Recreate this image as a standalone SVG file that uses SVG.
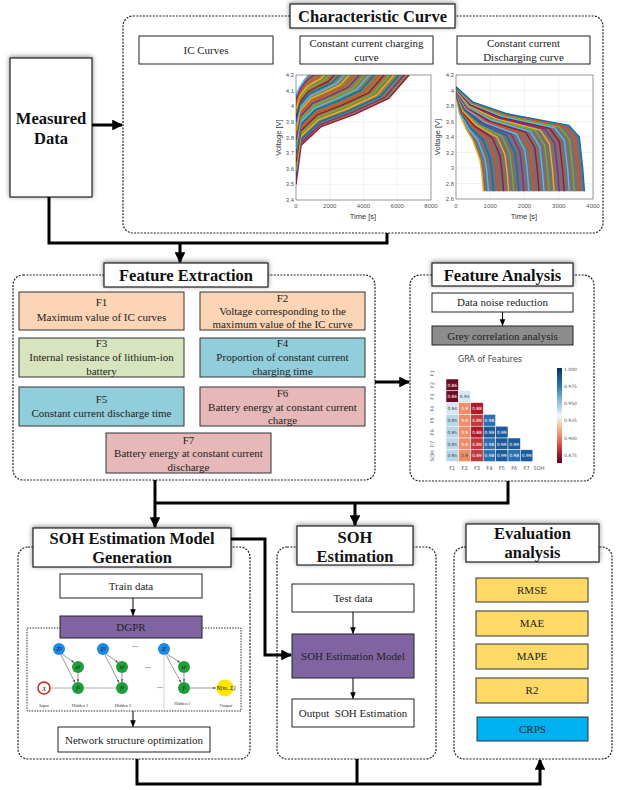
<svg xmlns="http://www.w3.org/2000/svg" width="622" height="790" viewBox="0 0 622 790">
<defs>
<style>
.title{font-family:"Liberation Serif","Times New Roman",serif;font-weight:bold;font-size:16.5px;text-anchor:middle;fill:#111}
.b{font-family:"Liberation Serif","Times New Roman",serif;font-size:11px;text-anchor:middle;fill:#222}
.box{fill:#fff;stroke:#222;stroke-width:1}
.tbox{fill:#fff;stroke:#222;stroke-width:1.2;filter:url(#sh)}
.cont{fill:none;stroke:#222;stroke-width:1.2;stroke-dasharray:2 1.3}
.conn{fill:none;stroke:#000;stroke-width:3}
.thin{fill:none;stroke:#000;stroke-width:1}
.ax{font-family:"Liberation Sans",Arial,sans-serif;font-size:6px;fill:#555}
.axl{font-family:"Liberation Sans",Arial,sans-serif;font-size:7.5px;fill:#333;text-anchor:middle}
.grid{stroke:#e2e2e2;stroke-width:0.5}
.cv{fill:none;stroke-width:1.4;stroke-linejoin:round}
.hm{font-family:"DejaVu Sans",sans-serif;font-size:4.3px;text-anchor:middle}
.hl{font-family:"DejaVu Sans",sans-serif;font-size:5px;fill:#555;text-anchor:middle}
.nl{font-family:"Liberation Serif",serif;font-size:4.5px;fill:#333;text-anchor:middle}
.nt{font-family:"Liberation Serif",serif;font-style:italic;font-size:6px;fill:#111;text-anchor:middle}
.na{stroke:#555;stroke-width:0.6;fill:none;marker-end:url(#an)}
</style>
<filter id="sh" x="-20%" y="-40%" width="140%" height="180%">
<feDropShadow dx="0" dy="-1" stdDeviation="2.5" flood-color="#000" flood-opacity="0.45"/>
</filter>
<marker id="ah" viewBox="0 0 10 10" refX="9" refY="5" markerWidth="3.6" markerHeight="3.6" orient="auto" markerUnits="strokeWidth"><path d="M0,0 L10,5 L0,10 z" fill="#000"/></marker>
<marker id="as" viewBox="0 0 10 10" refX="9" refY="5" markerWidth="7" markerHeight="7" orient="auto" markerUnits="userSpaceOnUse"><path d="M0,1 L10,5 L0,9 z" fill="#000"/></marker>
<marker id="an" viewBox="0 0 10 10" refX="9" refY="5" markerWidth="3" markerHeight="3" orient="auto" markerUnits="userSpaceOnUse"><path d="M0,1 L10,5 L0,9 z" fill="#555"/></marker>
<clipPath id="c1"><rect x="296" y="75" width="135" height="125"/></clipPath>
<clipPath id="c2"><rect x="456" y="75" width="137" height="124"/></clipPath>
<linearGradient id="cb" x1="0" y1="0" x2="0" y2="1">
<stop offset="0" stop-color="#053061"/><stop offset="0.1" stop-color="#1a5797"/><stop offset="0.2" stop-color="#2f79b5"/><stop offset="0.3" stop-color="#6aabd1"/><stop offset="0.42" stop-color="#b8d6e9"/><stop offset="0.5" stop-color="#f7f7f7"/><stop offset="0.58" stop-color="#fbd0b9"/><stop offset="0.68" stop-color="#f09c7b"/><stop offset="0.8" stop-color="#d15a4a"/><stop offset="0.9" stop-color="#a61b2d"/><stop offset="1" stop-color="#67001f"/>
</linearGradient>
</defs>
<rect width="622" height="790" fill="#fff"/>

<!-- Measured Data -->
<g id="measured-data">
<rect x="10" y="58" width="82" height="139" class="tbox"/>
<text x="51" y="124" class="title">Measured</text>
<text x="51" y="144" class="title">Data</text>
</g>

<!-- Characteristic Curve -->
<g id="characteristic-curve">
<rect x="123" y="16" width="480" height="217" rx="10" class="cont" stroke="#666"/>
<rect x="290" y="4" width="165" height="24" class="tbox"/>
<text x="372.5" y="22" class="title">Characteristic Curve</text>
<rect x="139" y="36" width="134" height="28" class="box"/>
<text x="206" y="54" class="b">IC Curves</text>
<rect x="300" y="36" width="133" height="28" class="box"/>
<text x="366.5" y="47" class="b">Constant current charging</text>
<text x="366.5" y="61" class="b">curve</text>
<rect x="457" y="36" width="133" height="28" class="box"/>
<text x="523.5" y="47" class="b">Constant current</text>
<text x="523.5" y="61" class="b">Discharging curve</text>
</g>

<!-- Charging plot -->
<g id="charging-plot">
<rect x="296" y="75" width="135" height="125" fill="#fff"/>
<g class="grid">
<path d="M329.75,75V200M363.5,75V200M397.25,75V200M296,90.6H431M296,106.25H431M296,121.9H431M296,137.5H431M296,153.1H431M296,168.75H431M296,184.4H431"/>
</g>
<g clip-path="url(#c1)">
<polygon points="296,184.4 301.1,145.3 321.3,126.6 355.1,114.1 388.8,98.4 409.1,75 309.5,75 308.1,75 307,76.6 304.4,79.7 299.4,87.5 296,95.3" fill="#8c7c52"/>
<polyline class="cv" stroke="#A2142F" points="296,184.4 301.1,145.3 321.3,126.6 355.1,114.1 388.8,98.4 409.1,75"/>
<polyline class="cv" stroke="#7E2F8E" points="296,180 301,142.4 320.5,124.3 352.7,112.2 384.8,97.3 404.1,75"/>
<polyline class="cv" stroke="#0072BD" points="296,175.5 300.9,139.5 319.6,121.9 350.2,110.3 380.7,96.2 399.1,75"/>
<polyline class="cv" stroke="#EDB120" points="296,171.1 300.8,136.6 318.8,119.6 347.8,108.5 376.7,95.1 394.2,75"/>
<polyline class="cv" stroke="#77AC30" points="296,166.6 300.7,133.7 317.9,117.2 345.4,106.6 372.7,93.9 389.2,75"/>
<polyline class="cv" stroke="#A2142F" points="296,162.2 300.7,130.9 317.1,114.9 343,104.7 368.7,92.8 384.2,75"/>
<polyline class="cv" stroke="#D95319" points="296,157.7 300.6,128 316.2,112.5 340.6,102.8 364.6,91.6 379.2,75"/>
<polyline class="cv" stroke="#0072BD" points="296,153.3 300.5,125.1 315.4,110.2 338.2,101 360.6,90.5 374.2,75"/>
<polyline class="cv" stroke="#4DBEEE" points="296,148.8 300.4,122.2 314.6,107.8 335.8,99.1 356.5,89.4 369.2,75"/>
<polyline class="cv" stroke="#77AC30" points="296,144.3 300.3,119.3 313.8,105.5 333.4,97.2 352.5,88.3 364.3,75"/>
<polyline class="cv" stroke="#7E2F8E" points="296,139.8 300.2,116.4 312.9,103.1 331,95.3 348.5,87.1 359.3,75"/>
<polyline class="cv" stroke="#D95319" points="296,135.4 300.1,113.5 312.1,100.8 328.6,93.5 344.5,86 354.3,75"/>
<polyline class="cv" stroke="#EDB120" points="296,130.9 300,110.6 311.2,98.4 326.2,91.6 340.4,84.8 349.3,75"/>
<polyline class="cv" stroke="#4DBEEE" points="296,126.5 300,107.7 310.4,96.1 323.8,89.7 336.4,83.7 344.4,75"/>
<polyline class="cv" stroke="#0072BD" points="296,122 299.9,104.8 309.5,93.7 321.4,87.8 332.3,82.6 339.4,75"/>
<polyline class="cv" stroke="#A2142F" points="296,117.6 299.8,102 308.7,91.4 319,86 328.3,81.5 334.4,75"/>
<polyline class="cv" stroke="#77AC30" points="296,113.1 299.7,99.1 307.8,89.1 316.6,84.1 324.3,80.3 329.4,75"/>
<polyline class="cv" stroke="#EDB120" points="296,108.7 299.6,96.2 307,86.8 314.2,82.2 320.3,79.2 324.5,75"/>
<polyline class="cv" stroke="#D95319" points="296,104.2 299.5,93.3 306.1,84.4 311.8,80.3 316.2,78 319.5,75"/>
<polyline class="cv" stroke="#7E2F8E" points="296,99.8 299.5,90.4 305.3,82.1 309.4,78.5 312.2,76.5 314.5,75"/>
<polyline class="cv" stroke="#4DBEEE" points="296,95.3 299.4,87.5 304.4,79.7 307,76.6 308.1,75 309.5,75"/>
</g>
<rect x="296" y="75" width="135" height="125" fill="none" stroke="#333" stroke-width="0.5"/>
<g class="ax" text-anchor="end">
<text x="294" y="77">4.2</text><text x="294" y="92.6">4.1</text><text x="294" y="108.2">4</text><text x="294" y="123.9">3.9</text><text x="294" y="139.5">3.8</text><text x="294" y="155.1">3.7</text><text x="294" y="170.7">3.6</text><text x="294" y="186.4">3.5</text><text x="294" y="202">3.4</text>
</g>
<g class="ax" text-anchor="middle">
<text x="296" y="208">0</text><text x="329.75" y="208">2000</text><text x="363.5" y="208">4000</text><text x="397.25" y="208">6000</text><text x="431" y="208">8000</text>
</g>
<text class="axl" x="363" y="219">Time [s]</text>
<text class="axl" transform="translate(281,137.5) rotate(-90)">Voltage [V]</text>
</g>

<!-- Discharging plot -->
<g id="discharging-plot">
<rect x="456" y="75" width="137" height="124" fill="#fff"/>
<g class="grid">
<path d="M490.25,75V199M524.5,75V199M558.75,75V199M456,90.5H593M456,106H593M456,121.5H593M456,137H593M456,152.5H593M456,168H593M456,183.5H593"/>
</g>
<g clip-path="url(#c2)">
<polygon points="456,94.4 459.4,113.8 466.3,129.3 473.1,140.9 480,160.3 481.7,171.9 483.4,191.3 584.4,191.3 582.7,168 579.3,137 569,125.4 507.4,113.8 473.1,102.2 456,86.7" fill="#7a6e72"/>
<polyline class="cv" stroke="#EDB120" points="456,94.4 459.4,113.8 466.3,129.3 473.1,140.9 480,160.3 481.7,171.9 483.4,191.3"/>
<polyline class="cv" stroke="#4DBEEE" points="456,94 460.1,113.2 468.4,128.5 477.9,140.2 485,159.2 486.8,171.7 488.5,191.3"/>
<polyline class="cv" stroke="#0072BD" points="456,93.6 460.8,112.6 470.4,127.7 482.7,139.4 489.9,158 491.8,171.5 493.5,191.3"/>
<polyline class="cv" stroke="#D95319" points="456,93.3 461.5,112 472.5,127 487.5,138.6 494.9,156.8 496.9,171.3 498.6,191.3"/>
<polyline class="cv" stroke="#A2142F" points="456,92.9 462.1,111.4 474.5,126.2 492.3,137.8 499.9,155.6 501.9,171.1 503.6,191.3"/>
<polyline class="cv" stroke="#EDB120" points="456,92.5 462.8,110.9 476.6,125.4 497.1,137.1 504.9,154.5 507,170.9 508.7,191.3"/>
<polyline class="cv" stroke="#77AC30" points="456,92.1 463.5,110.3 478.6,124.6 501.9,136.3 509.8,153.3 512,170.7 513.7,191.3"/>
<polyline class="cv" stroke="#0072BD" points="456,91.7 464.2,109.7 480.7,123.9 506.7,135.5 514.8,152.2 517.1,170.5 518.8,191.3"/>
<polyline class="cv" stroke="#7E2F8E" points="456,91.3 464.9,109.1 482.7,123.1 511.5,134.7 519.7,151 522.1,170.3 523.8,191.3"/>
<polyline class="cv" stroke="#4DBEEE" points="456,90.9 465.6,108.6 484.8,122.3 516.3,134 524.7,149.8 527.2,170.1 528.9,191.3"/>
<polyline class="cv" stroke="#D95319" points="456,90.5 466.3,108 486.9,121.5 521.1,133.2 529.7,148.6 532.2,169.9 533.9,191.3"/>
<polyline class="cv" stroke="#A2142F" points="456,90.2 467,107.4 489,120.8 525.9,132.4 534.7,147.5 537.3,169.8 539,191.3"/>
<polyline class="cv" stroke="#4DBEEE" points="456,89.8 467.6,106.8 491,120 530.6,131.6 539.6,146.3 542.3,169.6 544,191.3"/>
<polyline class="cv" stroke="#77AC30" points="456,89.4 468.3,106.2 493.1,119.2 535.4,130.9 544.6,145.2 547.4,169.4 549.1,191.3"/>
<polyline class="cv" stroke="#EDB120" points="456,89 469,105.6 495.1,118.4 540.2,130.1 549.5,144 552.4,169.2 554.1,191.3"/>
<polyline class="cv" stroke="#7E2F8E" points="456,88.6 469.7,105.1 497.2,117.7 545,129.3 554.5,142.9 557.5,169 559.2,191.3"/>
<polyline class="cv" stroke="#A2142F" points="456,88.2 470.4,104.5 499.2,116.9 549.8,128.5 559.4,141.7 562.5,168.8 564.2,191.3"/>
<polyline class="cv" stroke="#4DBEEE" points="456,87.8 471.1,103.9 501.3,116.1 554.6,127.8 564.4,140.5 567.6,168.6 569.3,191.3"/>
<polyline class="cv" stroke="#77AC30" points="456,87.4 471.7,103.3 503.3,115.3 559.4,127 569.4,139.3 572.6,168.4 574.3,191.3"/>
<polyline class="cv" stroke="#D95319" points="456,87.1 472.4,102.8 505.4,114.6 564.2,126.2 574.4,138.2 577.7,168.2 579.4,191.3"/>
<polyline class="cv" stroke="#0072BD" points="456,86.7 473.1,102.2 507.4,113.8 569,125.4 579.3,137 582.7,168 584.4,191.3"/>
</g>
<rect x="456" y="75" width="137" height="124" fill="none" stroke="#333" stroke-width="0.5"/>
<g class="ax" text-anchor="end">
<text x="454" y="77">4.2</text><text x="454" y="92.5">4</text><text x="454" y="108">3.8</text><text x="454" y="123.5">3.6</text><text x="454" y="139">3.4</text><text x="454" y="154.5">3.2</text><text x="454" y="170">3</text><text x="454" y="185.5">2.8</text><text x="454" y="201">2.6</text>
</g>
<g class="ax" text-anchor="middle">
<text x="456" y="208">0</text><text x="490.25" y="208">1000</text><text x="524.5" y="208">2000</text><text x="558.75" y="208">3000</text><text x="593" y="208">4000</text>
</g>
<text class="axl" x="524" y="219">Time [s]</text>
<text class="axl" transform="translate(440,137) rotate(-90)">Voltage [V]</text>
</g>

<!-- Feature Extraction -->
<g id="feature-extraction">
<rect x="13" y="275" width="362" height="205" rx="10" class="cont"/>
<rect x="104" y="263" width="164" height="24" class="tbox"/>
<text x="186" y="281" class="title">Feature Extraction</text>
<rect x="19" y="292" width="165" height="38" fill="#fbd5b5" stroke="#333"/>
<text x="101.5" y="306" class="b">F1</text>
<text x="101.5" y="321" class="b">Maximum value of IC curves</text>
<rect x="200" y="292" width="165" height="38" fill="#fbd5b5" stroke="#333"/>
<text x="282.5" y="302" class="b">F2</text>
<text x="282.5" y="315" class="b">Voltage corresponding to the</text>
<text x="282.5" y="328" class="b">maximum value of the IC curve</text>
<rect x="19" y="338" width="165" height="39" fill="#d7e4bd" stroke="#333"/>
<text x="101.5" y="347" class="b">F3</text>
<text x="101.5" y="361" class="b">Internal resistance of lithium-ion</text>
<text x="101.5" y="375" class="b">battery</text>
<rect x="200" y="338" width="165" height="39" fill="#92cddc" stroke="#333"/>
<text x="282.5" y="347" class="b">F4</text>
<text x="282.5" y="361" class="b">Proportion of constant current</text>
<text x="282.5" y="375" class="b">charging time</text>
<rect x="19" y="387" width="165" height="39" fill="#92cddc" stroke="#333"/>
<text x="101.5" y="403" class="b">F5</text>
<text x="101.5" y="417" class="b">Constant current discharge time</text>
<rect x="200" y="387" width="165" height="39" fill="#e6b9b8" stroke="#333"/>
<text x="282.5" y="397" class="b">F6</text>
<text x="282.5" y="411" class="b">Battery energy at constant current</text>
<text x="282.5" y="424" class="b">charge</text>
<rect x="106" y="433" width="165" height="40" fill="#e6b9b8" stroke="#333"/>
<text x="188.5" y="444" class="b">F7</text>
<text x="188.5" y="457" class="b">Battery energy at constant current</text>
<text x="188.5" y="471" class="b">discharge</text>
</g>

<!-- Feature Analysis -->
<g id="feature-analysis">
<rect x="410" y="275" width="184" height="206" rx="10" class="cont"/>
<rect x="432" y="263" width="141" height="23" class="tbox"/>
<text x="502.5" y="281" class="title">Feature Analysis</text>
<rect x="432" y="293" width="141" height="19" class="box"/>
<text x="502.5" y="306" class="b">Data noise reduction</text>
<rect x="432" y="326" width="141" height="19" fill="#8c8c8c" stroke="#222"/>
<text x="502.5" y="339.5" class="b">Grey correlation analysis</text>
<text x="490" y="362" font-family="DejaVu Sans,sans-serif" font-size="8" fill="#444" text-anchor="middle">GRA of Features</text>
<g stroke="#fff" stroke-width="0.5">
<rect x="446" y="379" width="12.4" height="11.8" fill="#6d0a24"/>
<rect x="446" y="390.8" width="12.4" height="11.8" fill="#6d0a24"/>
<rect x="458.4" y="390.8" width="12.4" height="11.8" fill="#d8e8f2"/>
<rect x="446" y="402.6" width="12.4" height="11.8" fill="#d8e8f2"/>
<rect x="458.4" y="402.6" width="12.4" height="11.8" fill="#ee8d6a"/>
<rect x="470.8" y="402.6" width="12.4" height="11.8" fill="#b2182b"/>
<rect x="446" y="414.4" width="12.4" height="11.8" fill="#bad6ea"/>
<rect x="458.4" y="414.4" width="12.4" height="11.8" fill="#ee8d6a"/>
<rect x="470.8" y="414.4" width="12.4" height="11.8" fill="#c2373a"/>
<rect x="483.2" y="414.4" width="12.4" height="11.8" fill="#2b6fb0"/>
<rect x="446" y="426.2" width="12.4" height="11.8" fill="#bad6ea"/>
<rect x="458.4" y="426.2" width="12.4" height="11.8" fill="#ee8d6a"/>
<rect x="470.8" y="426.2" width="12.4" height="11.8" fill="#b2182b"/>
<rect x="483.2" y="426.2" width="12.4" height="11.8" fill="#1c5a9a"/>
<rect x="495.6" y="426.2" width="12.4" height="11.8" fill="#1c5a9a"/>
<rect x="446" y="438" width="12.4" height="11.8" fill="#bad6ea"/>
<rect x="458.4" y="438" width="12.4" height="11.8" fill="#ee8d6a"/>
<rect x="470.8" y="438" width="12.4" height="11.8" fill="#c2373a"/>
<rect x="483.2" y="438" width="12.4" height="11.8" fill="#2b6fb0"/>
<rect x="495.6" y="438" width="12.4" height="11.8" fill="#1c5a9a"/>
<rect x="508" y="438" width="12.4" height="11.8" fill="#1c5a9a"/>
<rect x="446" y="449.8" width="12.4" height="11.8" fill="#bad6ea"/>
<rect x="458.4" y="449.8" width="12.4" height="11.8" fill="#ee8d6a"/>
<rect x="470.8" y="449.8" width="12.4" height="11.8" fill="#c2373a"/>
<rect x="483.2" y="449.8" width="12.4" height="11.8" fill="#2b6fb0"/>
<rect x="495.6" y="449.8" width="12.4" height="11.8" fill="#1c5a9a"/>
<rect x="508" y="449.8" width="12.4" height="11.8" fill="#2b6fb0"/>
<rect x="520.4" y="449.8" width="12.4" height="11.8" fill="#1c5a9a"/>
</g>
<g class="hm" fill="#fff">
<text x="452.2" y="386.5">0.86</text>
<text x="452.2" y="398.3">0.86</text>
<text x="464.6" y="398.3" fill="#444">0.94</text>
<text x="452.2" y="410.1" fill="#444">0.94</text>
<text x="464.6" y="410.1">0.9</text>
<text x="477" y="410.1">0.88</text>
<text x="452.2" y="421.9" fill="#444">0.95</text>
<text x="464.6" y="421.9">0.9</text>
<text x="477" y="421.9">0.89</text>
<text x="489.4" y="421.9">0.98</text>
<text x="452.2" y="433.7" fill="#444">0.95</text>
<text x="464.6" y="433.7">0.9</text>
<text x="477" y="433.7">0.88</text>
<text x="489.4" y="433.7">0.99</text>
<text x="501.8" y="433.7">0.99</text>
<text x="452.2" y="445.5" fill="#444">0.95</text>
<text x="464.6" y="445.5">0.9</text>
<text x="477" y="445.5">0.89</text>
<text x="489.4" y="445.5">0.98</text>
<text x="501.8" y="445.5">0.99</text>
<text x="514.2" y="445.5">0.99</text>
<text x="452.2" y="457.3" fill="#444">0.95</text>
<text x="464.6" y="457.3" fill="#444">0.9</text>
<text x="477" y="457.3">0.89</text>
<text x="489.4" y="457.3">0.98</text>
<text x="501.8" y="457.3">0.99</text>
<text x="514.2" y="457.3">0.98</text>
<text x="526.6" y="457.3">0.99</text>
</g>
<g class="hl">
<text x="452.2" y="470">F1</text><text x="464.6" y="470">F2</text><text x="477" y="470">F3</text><text x="489.4" y="470">F4</text><text x="501.8" y="470">F5</text><text x="514.2" y="470">F6</text><text x="526.6" y="470">F7</text><text x="539" y="470">SOH</text>
<text transform="translate(434,373.1) rotate(-90)">F1</text>
<text transform="translate(434,384.9) rotate(-90)">F2</text>
<text transform="translate(434,396.7) rotate(-90)">F3</text>
<text transform="translate(434,408.5) rotate(-90)">F4</text>
<text transform="translate(434,420.3) rotate(-90)">F5</text>
<text transform="translate(434,432.1) rotate(-90)">F6</text>
<text transform="translate(434,443.9) rotate(-90)">F7</text>
<text transform="translate(434,455.7) rotate(-90)">SOH</text>
</g>
<rect x="557" y="368" width="5" height="95" fill="url(#cb)"/>
<g class="hl" style="text-anchor:start;font-size:4.5px">
<text x="564" y="370.5">1.000</text><text x="564" y="388">0.975</text><text x="564" y="405">0.950</text><text x="564" y="422">0.925</text><text x="564" y="439.5">0.900</text><text x="564" y="456.5">0.875</text>
</g>
</g>

<!-- SOH Estimation Model Generation -->
<g id="soh-model-generation">
<rect x="18" y="547" width="232" height="212" rx="10" class="cont"/>
<rect x="33" y="528" width="198" height="39" class="tbox"/>
<text x="132" y="544" class="title">SOH Estimation Model</text>
<text x="132" y="563" class="title">Generation</text>
<rect x="60" y="574" width="142" height="24" class="box"/>
<text x="131" y="590" class="b">Train data</text>
<rect x="27" y="628" width="214" height="83" fill="none" stroke="#333" stroke-width="1" stroke-dasharray="1.5 1.2"/>
<rect x="60" y="616" width="142" height="22" fill="#8064a2" stroke="#222"/>
<text x="131" y="631" class="b" font-size="12">DGPR</text>
<rect x="58" y="727" width="152" height="25" class="box"/>
<text x="134" y="743.5" class="b">Network structure optimization</text>
</g>

<!-- DGPR network -->
<g id="dgpr-network">
<line x1="164" y1="640" x2="164" y2="711" stroke="#bbb" stroke-width="0.6"/>
<line x1="50" y1="688" x2="72" y2="688" stroke="#999" stroke-width="0.8"/>
<line x1="84" y1="688" x2="116" y2="688" stroke="#999" stroke-width="0.8"/>
<line x1="190" y1="688" x2="216" y2="688" class="na" stroke="#999"/>
<path class="na" d="M62,654 L74,662.5"/>
<path class="na" d="M61,655 L75,682.5"/>
<path class="na" d="M78,673 L78,682"/>
<path class="na" d="M106,654 L118,662.5"/>
<path class="na" d="M105,655 L119,682.5"/>
<path class="na" d="M122,673 L122,682"/>
<path class="na" d="M167,654 L180,662.5"/>
<path class="na" d="M166,655 L181,682.5"/>
<path class="na" d="M184,673 L184,682"/>
<g fill="#1e88e5"><circle cx="59" cy="649" r="6"/><circle cx="103" cy="649" r="6"/><circle cx="164" cy="649" r="6"/></g>
<g fill="#1f9e3a"><circle cx="78" cy="667" r="6"/><circle cx="122" cy="667" r="6"/><circle cx="184" cy="667" r="6"/><circle cx="78" cy="688" r="6"/><circle cx="122" cy="688" r="6"/><circle cx="184" cy="688" r="6"/></g>
<circle cx="44" cy="688" r="6" fill="#fff" stroke="#d42020" stroke-width="1.5"/>
<circle cx="225" cy="688" r="8.5" fill="#ffe600"/>
<text class="nt" x="59" y="651">Z¹</text><text class="nt" x="103" y="651">Z²</text><text class="nt" x="164" y="651">Zˡ</text>
<text class="nt" x="78" y="669">u¹</text><text class="nt" x="122" y="669">u²</text><text class="nt" x="184" y="669">uˡ</text>
<text class="nt" x="78" y="690">f¹</text><text class="nt" x="122" y="690">f²</text><text class="nt" x="184" y="690">fˡ</text>
<text class="nt" x="44" y="690.5" font-size="8">X</text>
<text class="nt" x="226" y="690" font-size="4.5" font-style="normal">N(m, Σ)</text>
<g font-family="DejaVu Sans,sans-serif" font-size="3.5" fill="#333" text-anchor="middle">
<text x="135" y="648">•••</text><text x="148" y="669">•••</text><text x="160" y="689">•••</text>
</g>
<text class="nl" x="44" y="707">Input</text><text class="nl" x="80" y="707">Hidden 1</text><text class="nl" x="123" y="707">Hidden 2</text><text class="nl" x="182" y="705">Hidden l</text><text class="nl" x="226" y="707">Output</text>
</g>

<!-- SOH Estimation -->
<g id="soh-estimation">
<rect x="277" y="547" width="159" height="212" rx="10" class="cont"/>
<rect x="297" y="526" width="116" height="39" class="tbox"/>
<text x="355" y="543" class="title">SOH</text>
<text x="355" y="562" class="title">Estimation</text>
<rect x="292" y="584" width="122" height="28" class="box"/>
<text x="353" y="602" class="b">Test data</text>
<rect x="292" y="634" width="122" height="44" fill="#8064a2" stroke="#222"/>
<text x="353" y="660" class="b">SOH Estimation Model</text>
<rect x="292" y="699" width="122" height="28" class="box"/>
<text x="353" y="717" class="b" xml:space="preserve">Output  SOH Estimation</text>
</g>

<!-- Evaluation analysis -->
<g id="evaluation-analysis">
<rect x="454" y="547" width="158" height="212" rx="10" class="cont"/>
<rect x="466" y="524" width="133" height="38" class="tbox"/>
<text x="532.5" y="539" class="title">Evaluation</text>
<text x="532.5" y="558" class="title">analysis</text>
<rect x="476" y="578" width="112" height="24" fill="#ffd966" stroke="#333"/>
<text x="532" y="594" class="b">RMSE</text>
<rect x="476" y="611" width="112" height="25" fill="#ffd966" stroke="#333"/>
<text x="532" y="627" class="b">MAE</text>
<rect x="476" y="644" width="112" height="25" fill="#ffd966" stroke="#333"/>
<text x="532" y="660" class="b">MAPE</text>
<rect x="476" y="678" width="112" height="25" fill="#ffd966" stroke="#333"/>
<text x="532" y="694" class="b">R2</text>
<rect x="477" y="717" width="111" height="24" fill="#00b0f0" stroke="#333"/>
<text x="532.5" y="733" class="b">CRPS</text>
</g>

<!-- Connectors -->
<g id="connectors">
<path class="conn" d="M92,125 H122" marker-end="url(#ah)"/>
<path class="conn" d="M49,197 V243 H387 V233"/>
<path class="conn" d="M180,243 V262" marker-end="url(#ah)"/>
<path class="conn" d="M375,382 H409" marker-end="url(#ah)"/>
<path class="conn" d="M155,480 V527" marker-end="url(#ah)"/>
<path class="conn" d="M155,503 H508 V481"/>
<path class="conn" d="M355,503 V525" marker-end="url(#ah)"/>
<path class="conn" d="M231,539 H265 V655 H291" marker-end="url(#ah)"/>
<path class="conn" d="M137,759 V784 H540 V760" marker-end="url(#ah)"/>
<path class="conn" d="M357,759 V784"/>
<path class="thin" d="M502.5,312 V325.5" marker-end="url(#as)"/>
<path class="thin" d="M133,598 V615.5" marker-end="url(#as)"/>
<path class="thin" d="M133,711 V726.5" marker-end="url(#as)"/>
<path class="thin" d="M353,612 V633.5" marker-end="url(#as)"/>
<path class="thin" d="M353,678 V698.5" marker-end="url(#as)"/>
</g>
</svg>
